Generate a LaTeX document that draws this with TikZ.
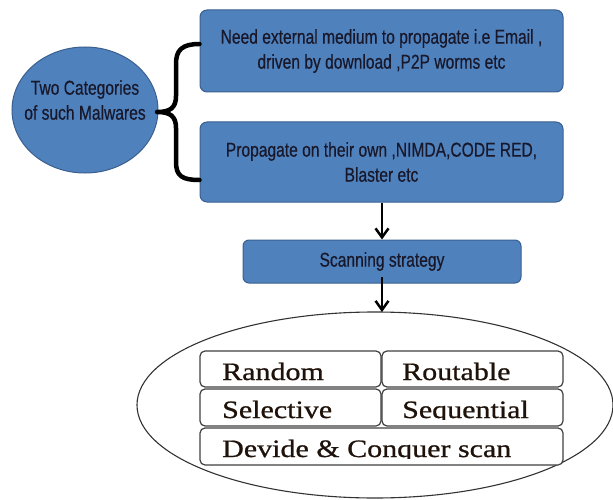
\documentclass[tikz,border=0pt]{standalone}
\usepackage{fontspec}
\usetikzlibrary{shapes.geometric,arrows.meta}
\newfontfamily\boxfont[FakeStretch=0.78,FakeBold=0.4]{Liberation Sans}
\newfontfamily\serfont[FakeStretch=1.2,FakeBold=0.8]{Liberation Serif}
\definecolor{boxblue}{HTML}{4F81BD}
\definecolor{boxedge}{HTML}{3A5F8E}
\definecolor{boxtext}{HTML}{18182A}
\definecolor{sertext}{HTML}{1E120A}
\tikzset{
  bluebox/.style={draw=boxedge, line width=1pt, fill=boxblue, rounded corners=7pt,
    text=boxtext, align=center, inner sep=0pt,
    font=\boxfont\fontsize{20}{25}\selectfont},
  bluecirc/.style={ellipse, draw=boxedge, line width=1pt, fill=boxblue, inner sep=0pt},
  circtxt/.style={text=boxtext, align=center, inner sep=0pt,
    font=\boxfont\fontsize{20}{25}\selectfont},
  whitebox/.style={draw=black!75, line width=1.2pt, fill=white, rounded corners=5pt, inner sep=0pt},
  sertxt/.style={anchor=base west, text=sertext, inner sep=0pt,
    font=\serfont\fontsize{25}{25}\selectfont},
  flowarrow/.style={line width=2.5pt, -{Straight Barb[length=9pt,width=13pt,line width=2.5pt]}},
  bigell/.style={ellipse, draw=black!80, line width=1.1pt, inner sep=0pt}
}
\begin{document}
\begin{tikzpicture}[x=1pt,y=-1pt]
\useasboundingbox (0,0) rectangle (613,500);
% category ellipse
\node[bluecirc, minimum width=146pt, minimum height=126pt] (cat) at (85,110) {};
\node[circtxt] (cattxt) at (85,100) {Two Categories\\of such Malwares};
% blue boxes
\node[bluebox, minimum width=363pt, minimum height=82pt] (b1) at (381.5,51)
  {Need external medium to propagate i.e Email ,\\driven by download ,P2P worms etc};
\node[bluebox, minimum width=363pt, minimum height=80pt] (b2) at (381.5,162)
  {Propagate on their own ,NIMDA,CODE RED,\\Blaster etc};
\node[bluebox, minimum width=278pt, minimum height=43pt, rounded corners=6pt] (scan) at (382,261.5)
  {Scanning strategy};
% brace
\coordinate (brtop) at (b1.west |- 0,44);
\coordinate (brbot) at (b2.west |- 0,180);
\coordinate (brtip) at (157,112);
\draw[line width=4.5pt, line cap=round, line join=round]
  (brtop) .. controls (182,44) and (176,50) .. (176,64) -- (176,96)
  .. controls (176,108) and (170,112) .. (brtip)
  .. controls (170,112) and (176,116) .. (176,128) -- (176,162)
  .. controls (176,176) and (182,180) .. (brbot);
% big ellipse
\node[bigell, minimum width=476pt, minimum height=186pt] (ell) at (375,405) {};
% arrows
\draw[flowarrow] (b2.south -| 382,0) -- (scan.north -| 382,0);
\draw[flowarrow] (382,277) -- (382,312);
% inner boxes
\node[whitebox, minimum width=181pt, minimum height=36pt] (rand) at (290.5,369) {};
\node[whitebox, minimum width=181pt, minimum height=36pt] (rout) at (472.5,369) {};
\node[whitebox, minimum width=181pt, minimum height=37pt] (sel) at (290.5,407.5) {};
\node[whitebox, minimum width=181pt, minimum height=37pt] (seq) at (472.5,407.5) {};
\node[whitebox, minimum width=363pt, minimum height=37pt] (dc) at (381.5,446.5) {};
\begin{scope}
  \clip (201,352) rectangle (562,382);
  \node[sertxt] (trand) at (222,380) {Random};
  \node[sertxt] (trout) at (402,380) {Routable};
\end{scope}
\begin{scope}
  \clip (201,390) rectangle (562,419.5);
  \node[sertxt] (tsel) at (222,418) {Selective};
  \node[sertxt] (tseq) at (402,418) {Sequential};
\end{scope}
\begin{scope}
  \clip (201,429) rectangle (562,458.5);
  \node[sertxt] (tdc) at (222,457) {Devide \& Conquer scan};
\end{scope}
\end{tikzpicture}
\end{document}
